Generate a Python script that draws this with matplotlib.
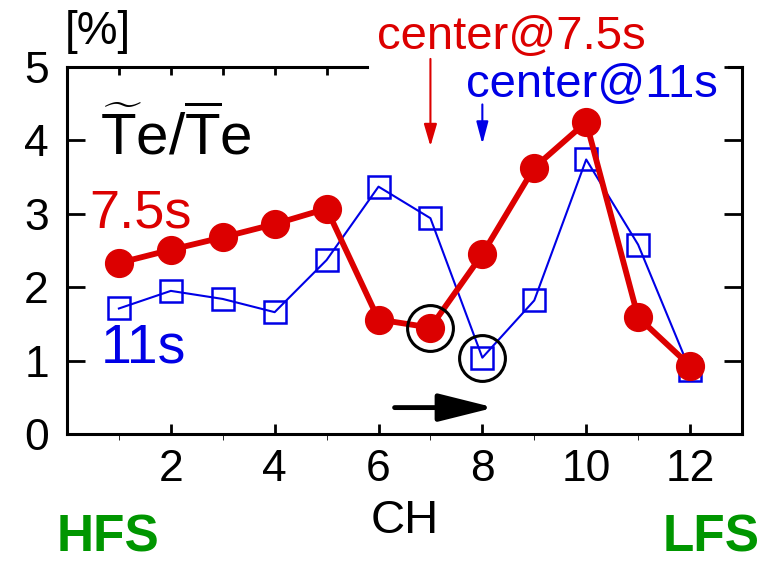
import matplotlib
matplotlib.use('Agg')
import matplotlib.pyplot as plt

plt.rcParams['font.family'] = ['Liberation Sans', 'DejaVu Sans']
plt.rcParams['mathtext.fontset'] = 'custom'
plt.rcParams['mathtext.rm'] = 'Liberation Sans'

# data
ch = [1, 2, 3, 4, 5, 6, 7, 8, 9, 10, 11, 12]
te_75s = [2.33, 2.51, 2.68, 2.86, 3.07, 1.56, 1.45, 2.45, 3.63, 4.25, 1.59, 0.93]
te_11s = [1.71, 1.95, 1.84, 1.66, 2.37, 3.37, 2.94, 1.04, 1.82, 3.74, 2.58, 0.87]
center_75s = 7
center_11s = 8

red = '#dc0000'
blue = '#0000e6'
green = '#009600'

fig = plt.figure(figsize=(7.62, 5.63), dpi=100)
ax = fig.add_axes([0.0879, 0.2291, 0.8858, 0.6519])

# series
ax.plot(ch, te_11s, color=blue, lw=1.5, marker='s', ms=16, mfc='none',
        mec=blue, mew=1.8, zorder=3)
ax.plot(ch, te_75s, color=red, lw=4.2, marker='o', ms=20, mfc=red,
        mec=red, zorder=4)

# circled centers
ax.plot(ch[center_75s - 1], te_75s[center_75s - 1], marker='o', ms=33,
        mfc='none', mec='k', mew=2.2, zorder=5)
ax.plot(ch[center_11s - 1], te_11s[center_11s - 1], marker='o', ms=33,
        mfc='none', mec='k', mew=2.2, zorder=5)

ax.set_xlim(0, 13)
ax.set_ylim(0, 5)

ax.set_xticks([2, 4, 6, 8, 10, 12])
ax.set_xticks(ch, minor=True)
ax.set_yticks([0, 1, 2, 3, 4, 5])
ax.tick_params(axis='both', labelsize=32, direction='in', width=2)
ax.tick_params(axis='x', which='major', length=7, pad=11)
ax.tick_params(axis='x', which='minor', length=4)
ax.tick_params(axis='y', which='major', length=13, pad=13, right=True)
ax.tick_params(top=False)

for s in ['left', 'bottom', 'right', 'top']:
    ax.spines[s].set_linewidth(2.2)
ax.spines['top'].set_bounds(12.75, 13)

# partial top axis with ticks
sec = ax.secondary_xaxis('top')
sec.set_xticks([1, 2, 3, 4, 5])
sec.tick_params(direction='in', length=6, width=2, labeltop=False)
sec.spines['top'].set_linewidth(2.2)
sec.spines['top'].set_bounds(0, 5.77)

ax.set_xlabel('CH', fontsize=34, labelpad=6)

# annotations
ax.text(0.6, 5.48, '[%]', fontsize=33, ha='center', va='center', clip_on=False)
ax.text(2.1, 3.81, r'$\widetilde{\mathrm{T}}\mathrm{e}/\overline{\mathrm{T}}\mathrm{e}$',
        fontsize=42, ha='center', va='baseline')
ax.text(0.43, 2.82, '7.5s', fontsize=39, color=red, ha='left', va='baseline')
ax.text(0.65, 0.97, '11s', fontsize=40, color=blue, ha='left', va='baseline')
ax.text(8.56, 5.25, 'center@7.5s', fontsize=34, color=red, ha='center',
        va='baseline', clip_on=False)
ax.text(10.12, 4.59, 'center@11s', fontsize=34, color=blue, ha='center',
        va='baseline')

ax.annotate('', xy=(center_75s, 3.92), xytext=(center_75s, 5.11),
            arrowprops=dict(arrowstyle='-|>,head_length=0.75,head_width=0.22',
                            mutation_scale=18, color=red, lw=1.5,
                            shrinkA=0, shrinkB=0), annotation_clip=False)
ax.annotate('', xy=(center_11s, 3.95), xytext=(center_11s, 4.49),
            arrowprops=dict(arrowstyle='-|>,head_length=0.75,head_width=0.2',
                            mutation_scale=18, color=blue, lw=1.5,
                            shrinkA=0, shrinkB=0))
ax.annotate('', xy=(8.23, 0.36), xytext=(6.31, 0.36),
            arrowprops=dict(arrowstyle='-|>,head_length=1.0,head_width=0.25',
                            mutation_scale=34, color='k', lw=3.5,
                            shrinkA=0, shrinkB=0))

fig.text(57 / 762, 0.0, 'HFS', fontsize=37, fontweight='bold', color=green,
         ha='left', va='bottom')
fig.text(760 / 762, 0.0, 'LFS', fontsize=37, fontweight='bold', color=green,
         ha='right', va='bottom')

fig.savefig('out.png', dpi=100)
